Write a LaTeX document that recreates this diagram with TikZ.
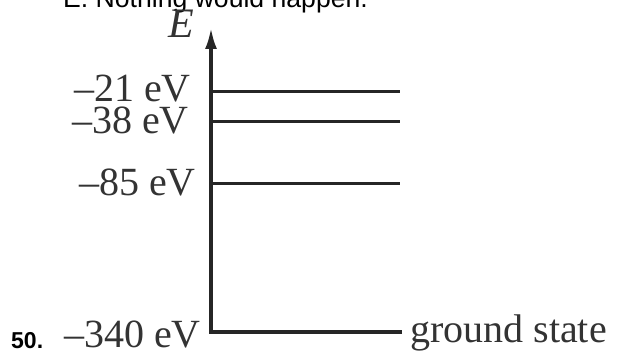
\documentclass[tikz,border=0pt]{standalone}
\usepackage{fontspec}
\setmainfont{Liberation Serif}
\newfontfamily\arialfont{Liberation Sans}
\usetikzlibrary{arrows.meta}
\begin{document}
\begin{tikzpicture}[x=1pt,y=-1pt,
  levelline/.style={line width=3pt, draw=black!85},
  axisline/.style={line width=3.2pt, draw=black!85, line join=miter},
  lab/.style={font=\fontsize{40}{40}\selectfont, text=black!80, inner sep=0pt, anchor=base east},
  qtext/.style={font=\arialfont\fontsize{26.6}{28}\selectfont, inner sep=0pt, anchor=base west}]
\useasboundingbox (0,0) rectangle (617,352);
% question text (cut off at the top)
\node[qtext] (q) at (63,8) {E. Nothing would happen.};
\node[qtext, font=\arialfont\bfseries\fontsize{23}{24}\selectfont] (num) at (11,348) {50.};
% axis
\coordinate (top) at (211,28);
\coordinate (o) at (211,332);
\coordinate (gend) at (402,332);
\draw[axisline, -{Latex[length=21pt,width=12pt]}] (gend) -- (o) -- (top);
\node[font=\itshape\fontsize{42}{42}\selectfont, text=black!80, inner sep=0pt, anchor=base west] (E) at (168,38) {E};
% levels
\coordinate (a1) at (211,92);  \coordinate (a2) at (400,92);
\coordinate (b1) at (211,122); \coordinate (b2) at (400,122);
\coordinate (c1) at (211,184); \coordinate (c2) at (400,184);
\draw[levelline] (a1) -- (a2);
\draw[levelline] (b1) -- (b2);
\draw[levelline] (c1) -- (c2);
% labels
\node[lab] (l21) at (191,102) {–21 eV};
\node[lab] (l38) at (189,134) {–38 eV};
\node[lab] (l85) at (196,196) {–85 eV};
\node[lab] (l340) at (201,347) {–340 eV};
\node[lab, anchor=base west] (gs) at (410,342) {ground state};
\end{tikzpicture}
\end{document}
